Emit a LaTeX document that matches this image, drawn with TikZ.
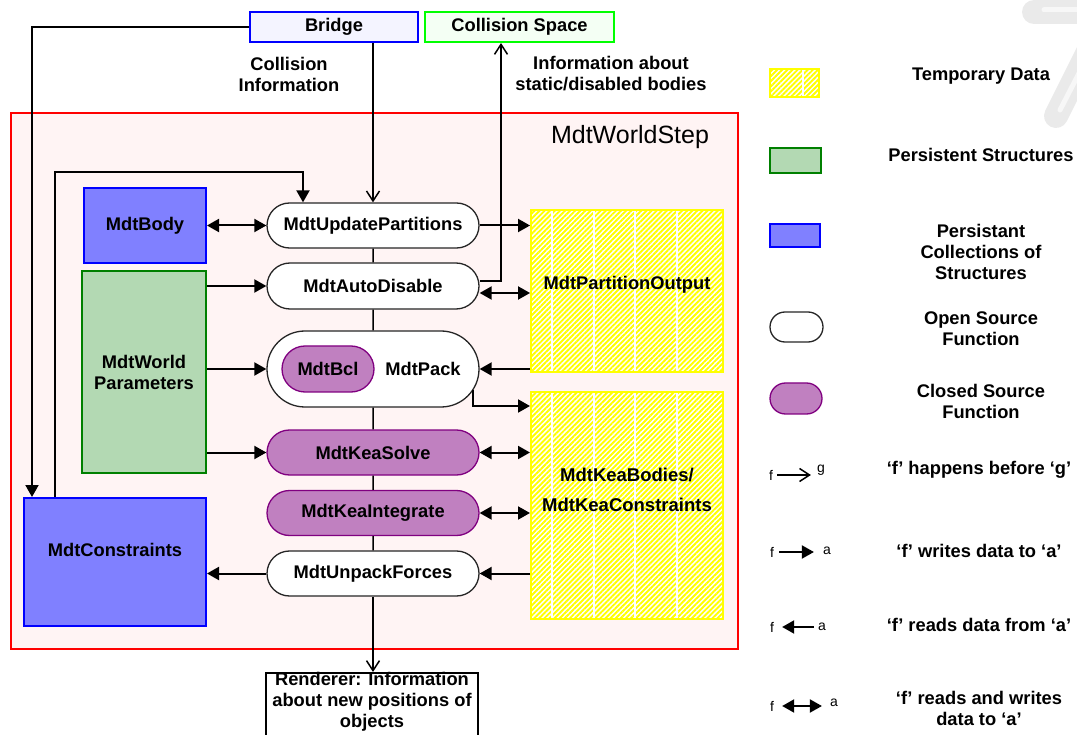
\documentclass[tikz,border=0pt]{standalone}
\usepackage{fontspec}
\setmainfont{Liberation Sans}
\usetikzlibrary{arrows.meta,shapes.misc,patterns.meta,calc}

\definecolor{framefill}{RGB}{255,244,244}
\definecolor{collfill}{RGB}{128,128,255}
\definecolor{persfill}{RGB}{179,217,179}
\definecolor{persline}{RGB}{0,128,0}
\definecolor{closedfill}{RGB}{192,128,192}
\definecolor{closedline}{RGB}{128,0,128}
\definecolor{templine}{RGB}{255,255,0}
\definecolor{bridgefill}{RGB}{244,244,255}
\definecolor{spacefill}{RGB}{244,255,244}
\definecolor{spaceline}{RGB}{0,255,0}
\definecolor{markgray}{RGB}{234,234,234}

\tikzset{
  func/.style={rounded rectangle, draw=black!85, line width=1.3pt, fill=white,
    minimum width=212pt, minimum height=45pt, inner sep=0pt},
  closedfn/.style={func, fill=closedfill, draw=closedline},
  collbox/.style={rectangle, draw=blue, line width=2pt, fill=collfill, inner sep=0pt, align=center},
  persbox/.style={rectangle, draw=persline, line width=2pt, fill=persfill, inner sep=0pt, align=center},
  tempbox/.style={rectangle, draw=templine, line width=2pt, inner sep=0pt, align=center,
    preaction={fill=white},
    pattern={Lines[angle=45,distance=3.6pt,line width=1.9pt]}, pattern color=templine,
    path picture={\foreach \o in {#1}{
      \draw[white, line width=1.2pt]
        ($(path picture bounding box.north west)+(\o,0)$) --
        ($(path picture bounding box.south west)+(\o,0)$);}}},
  outbox/.style={rectangle, line width=2pt, minimum height=30pt, inner sep=0pt},
  wr/.style={line width=2pt, -{Triangle[length=12pt,width=13pt]}},
  rw/.style={line width=2pt, {Triangle[length=12pt,width=13pt]}-{Triangle[length=12pt,width=13pt]}},
  seq/.style={line width=1.5pt, -{Straight Barb[length=10pt,width=13pt]}},
  link/.style={line width=1.5pt},
  small/.style={font=\mdseries\fontsize{14}{16}\selectfont, inner sep=0pt},
}

\begin{document}
\begin{tikzpicture}[x=1pt, y=-1pt, font=\bfseries\fontsize{18.3}{21}\selectfont]
\useasboundingbox (0,0) rectangle (1077,735);

% faint grey strokes in the upper right corner
\draw[markgray, line width=24pt, line cap=round] (1034,12) -- (1100,12);
\draw[markgray, line width=24pt, line cap=round] (1094,40) -- (1056,116);
\draw[white!60!markgray, line width=5pt, line cap=round] (1044,10) -- (1100,10);
\draw[white!60!markgray, line width=5pt, line cap=round] (1090,52) -- (1060,110);

% the MdtWorldStep frame
\node[draw=red, line width=2pt, fill=framefill, minimum width=727pt, minimum height=536pt,
  inner sep=0pt, anchor=north west] (step) at (10,112) {};
\node[font=\mdseries\fontsize{25}{28}\selectfont] (steplbl) at (630,137) {MdtWorldStep};

% external components
\node[outbox, draw=blue, fill=bridgefill, minimum width=168pt] (br) at (334,27) {Bridge};
\node[outbox, draw=spaceline, fill=spacefill, minimum width=189pt] (cs) at (519.5,27) {Collision Space};
\node[align=center] (ci) at (289,74) {Collision\\Information};
\node[align=center] (ia) at (611,74) {Information about\\static/disabled bodies};

% persistent data
\node[collbox, minimum width=122pt, minimum height=75pt] (body) at (145,225.5) {MdtBody};
\node[persbox, minimum width=124pt, minimum height=202pt] (wp) at (144,372) {MdtWorld\\Parameters};
\node[collbox, minimum width=182pt, minimum height=128pt,
  label={[yshift=12pt]center:MdtConstraints}] (cons) at (115,562) {};

% step functions
\node[func] (up) at (373,225.5) {MdtUpdatePartitions};
\node[func, minimum height=46pt] (ad) at (373,286) {MdtAutoDisable};
\node[func, minimum height=76pt, label={[xshift=50pt]center:MdtPack}] (pk) at (373,369) {};
\node[closedfn, minimum width=92pt, minimum height=46pt] (bcl) at (328,369) {MdtBcl};
\node[closedfn] (ks) at (373,452.5) {MdtKeaSolve};
\node[closedfn] (ki) at (373,513) {MdtKeaIntegrate};
\node[func] (uf) at (373,573.5) {MdtUnpackForces};

% temporary data
\node[tempbox={21,63,104,146}, minimum width=192pt, minimum height=162pt,
  label={[yshift=6.5pt]center:MdtPartitionOutput}] (po) at (627,291.5) {};
\node[tempbox={21,63,104,146}, minimum width=192pt, minimum height=227pt,
  label={[yshift=16pt, align=center, font=\bfseries\fontsize{18.5}{30}\selectfont]center:{MdtKeaBodies/\\MdtKeaConstraints}}]
  (kb) at (627,505.5) {};

% renderer
\node[draw, line width=2pt, fill=white, minimum width=212pt, minimum height=90pt,
  inner sep=0pt, anchor=north,
  label={[anchor=north, inner sep=0pt, align=center]north:{Renderer: Information\\about new positions of\\objects}}]
  (rend) at (372,672) {};

% order of execution
\draw[link] (up) -- (ad);
\draw[link] (ad) -- (pk);
\draw[link] (pk) -- (ks);
\draw[link] (ks) -- (ki);
\draw[link] (ki) -- (uf);
\draw[seq] (uf.south) -- (rend.north -| uf.south);
\draw[seq] (br.south -| up.north) -- (up.north);
\draw[seq] ([yshift=5pt]ad.east) -| ([xshift=-18.5pt]cs.south);

% data flow
\coordinate (loop) at (303,172);
\draw[wr] (br.west) -| ([xshift=9pt]cons.north west);
\draw[wr] ([xshift=32pt]cons.north west) |- (loop) -- (loop |- up.north);
\draw[rw] (body.east |- up.west) -- (up.west);
\draw[wr] (up.east) -- (up.east -| po.west);
\draw[wr] (wp.east |- ad.west) -- (ad.west);
\draw[rw] ([yshift=-7pt]ad.east) -- ([yshift=-7pt]ad.east -| po.west);
\draw[wr] (wp.east |- pk.west) -- (pk.west);
\draw[wr] (po.west |- pk.east) -- (pk.east);
\draw[wr] (pk.-12) |- ([yshift=-15pt]kb.north west);
\draw[wr] (wp.east |- ks.west) -- (ks.west);
\draw[rw] (ks.east) -- (ks.east -| kb.west);
\draw[rw] (ki.east) -- (ki.east -| kb.west);
\draw[wr] (uf.west) -- (uf.west -| cons.east);
\draw[wr] (uf.east -| kb.west) -- (uf.east);

% legend: swatches
\node[tempbox={33}, minimum width=49pt, minimum height=28pt] (ltemp) at (794.5,83) {};
\node[persbox, minimum width=51pt, minimum height=25pt] (lpers) at (795.5,160.5) {};
\node[collbox, minimum width=50pt, minimum height=23pt] (lcoll) at (795,235.5) {};
\node[func, minimum width=53pt, minimum height=30pt] (lopen) at (796.5,327) {};
\node[closedfn, minimum width=52pt, minimum height=31pt] (lclosed) at (796,398.5) {};

\node[align=center] (ltt) at (981,76) {Temporary Data};
\node[align=center] (lpt) at (981,155) {Persistent Structures};
\node[align=center] (lct) at (981,252) {Persistant\\Collections of\\Structures};
\node[align=center] (lot) at (981,329) {Open Source\\Function};
\node[align=center] (lcl) at (981,401) {Closed Source\\Function};

% legend: connectors
\node[small] (f1) at (771,475) {f};
\node[small] (g1) at (821,470) {g};
\draw[seq] ([xshift=4pt]f1.east) -- ([xshift=-6pt]f1.east -| g1.west);
\node[align=center] (lseq) at (979,470) {‘f’ happens before ‘g’};

\node[small] (f2) at (772,552) {f};
\node[small] (a2) at (827,551) {a};
\draw[wr] ([xshift=5pt]f2.east) -- ([xshift=-9pt]f2.east -| a2.west);
\node[align=center] (lwr) at (979,551) {‘f’ writes data to ‘a’};

\node[small] (f3) at (772,627) {f};
\node[small] (a3) at (822,627) {a};
\draw[wr] ([xshift=-4pt]a3.west) -- ([xshift=8pt]a3.west -| f3.east);
\node[align=center] (lrd) at (979,625) {‘f’ reads data from ‘a’};

\node[small] (f4) at (772,706) {f};
\node[small] (a4) at (834,703) {a};
\draw[rw] ([xshift=8pt]f4.east) -- ([xshift=-8pt]f4.east -| a4.west);
\node[align=center] (lrw) at (979,708) {‘f’ reads and writes\\data to ‘a’};
\end{tikzpicture}
\end{document}
